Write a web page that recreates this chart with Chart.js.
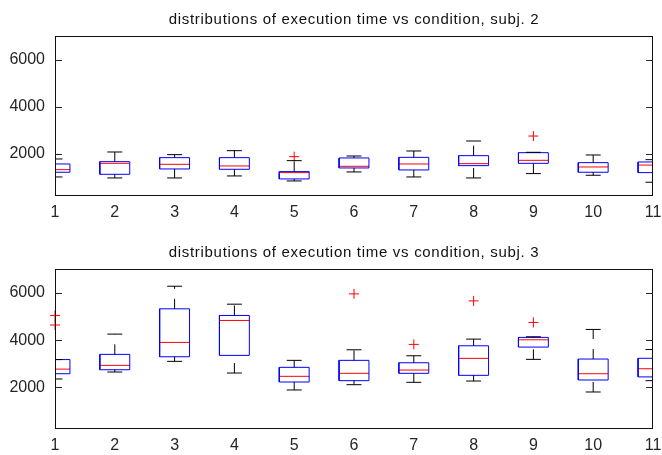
<!DOCTYPE html>
<html>
<head>
<meta charset="utf-8">
<script src="https://cdn.jsdelivr.net/npm/chart.js@4"></script>
<style>
  html, body { margin: 0; padding: 0; background: #fff; }
  #wrap { position: relative; width: 662px; height: 455px; }
  canvas { position: absolute; left: 0; }
</style>
</head>
<body>
<div id="wrap">
  <canvas id="c2" width="662" height="228" style="top:0"></canvas>
  <canvas id="c3" width="662" height="227" style="top:228px"></canvas>
</div>
<script>
// conditions on the x axis
const conditions = [1, 2, 3, 4, 5, 6, 7, 8, 9, 10, 11];
const yTicks = [2000, 4000, 6000];

// subject 2 box statistics (ms)
const s2Lo  = [1027,  985,  985, 1070,  858, 1239, 1027,  985, 1169, 1099,  803];
const s2Q1  = [1226, 1140, 1366, 1352,  943, 1408, 1324, 1507, 1605, 1226, 1211];
const s2Med = [1337, 1605, 1563, 1493, 1211, 1479, 1577, 1591, 1732, 1450, 1530];
const s2Q3  = [1577, 1675, 1845, 1845, 1253, 1831, 1858, 1929, 2056, 1633, 1662];
const s2Hi  = [1789, 2085, 1972, 2141, 1718, 1915, 2127, 2550, 2071, 1958, 1760];
const s2OutX = [5, 9];
const s2OutY = [1887, 2761];

// subject 3 box statistics (ms)
const s3Lo  = [2352, 2647, 3099, 2605, 1886, 2110, 2211, 2266, 3184, 1801, 2281];
const s3Q1  = [2575, 2744, 3294, 3353, 2224, 2281, 2592, 2507, 3704, 2309, 2440];
const s3Med = [2770, 2930, 3902, 4833, 2465, 2592, 2731, 3226, 4013, 2575, 2786];
const s3Q3  = [3175, 3395, 5325, 5044, 2846, 3142, 3040, 3759, 4114, 3197, 3230];
const s3Hi  = [3175, 4254, 6283, 5522, 3142, 3590, 3336, 4042, 4141, 4452, 3600];
const s3OutX = [1, 1, 6, 7, 8, 9];
const s3OutY = [4640, 5044, 5958, 3818, 5661, 4748];

const HALF = 0.25;   // half box width, in x units
const CAP = 0.125;   // half whisker cap width
const FONT = "'Liberation Sans', Arial, Helvetica, sans-serif";
const INK = '#262626';

// MATLAB-ish frame, inward tick marks and a title centred over the axes
const matlabAxes = {
  id: 'matlabAxes',
  afterDraw(chart, args, opts) {
    const { ctx, chartArea: a } = chart;
    const y = chart.scales.y;
    ctx.save();
    ctx.strokeStyle = '#111';
    ctx.lineWidth = 1;
    ctx.strokeRect(Math.round(a.left) + 0.5, Math.round(a.top) + 0.5,
      Math.round(a.right - a.left) - 1, Math.round(a.bottom - a.top) - 1);
    ctx.strokeStyle = INK;
    ctx.beginPath();
    yTicks.forEach((v) => {
      const py = Math.round(y.getPixelForValue(v)) + 0.5;
      ctx.moveTo(a.left, py); ctx.lineTo(a.left + 7, py);
      ctx.moveTo(a.right, py); ctx.lineTo(a.right - 7, py);
    });
    ctx.stroke();
    ctx.fillStyle = '#111';
    ctx.font = '15px ' + FONT;
    ctx.letterSpacing = '0.7px';
    ctx.textAlign = 'center';
    ctx.textBaseline = 'alphabetic';
    ctx.fillText(opts.text, (a.left + a.right) / 2, a.top - 12.5);
    ctx.restore();
  },
};

function boxDatasets(lo, q1, med, q3, hi, outX, outY) {
  const box = [], mid = [], whisk = [], caps = [];
  conditions.forEach((c, i) => {
    box.push({ x: c - HALF, y: q1[i] }, { x: c + HALF, y: q1[i] }, { x: c + HALF, y: q3[i] },
      { x: c - HALF, y: q3[i] }, { x: c - HALF, y: q1[i] }, { x: c, y: null });
    mid.push({ x: c - HALF, y: med[i] }, { x: c + HALF, y: med[i] }, { x: c, y: null });
    // both whiskers drawn bottom-up so the dash pattern lines up like the original
    whisk.push({ x: c, y: lo[i] }, { x: c, y: q1[i] }, { x: c, y: null },
      { x: c, y: q3[i] }, { x: c, y: hi[i] }, { x: c, y: null });
    caps.push({ x: c - CAP, y: lo[i] }, { x: c + CAP, y: lo[i] }, { x: c, y: null },
      { x: c - CAP, y: hi[i] }, { x: c + CAP, y: hi[i] }, { x: c, y: null });
  });
  const outliers = outX.map((x, i) => ({ x, y: outY[i] }));
  const line = { pointRadius: 0, borderWidth: 1, tension: 0, spanGaps: false, fill: false };
  return [
    { ...line, label: 'whiskers', data: whisk, borderColor: '#000', borderDash: [10, 10], clip: 0 },
    { ...line, label: 'caps', data: caps, borderColor: '#000', clip: 0 },
    { ...line, label: 'boxes', data: box, borderColor: '#0000ff', clip: 0 },
    { ...line, label: 'median', data: mid, borderColor: '#ff0000', clip: 0 },
    {
      label: 'outliers', data: outliers, showLine: false, pointStyle: 'cross',
      pointRadius: 5, pointBorderWidth: 1, borderColor: '#ff0000', backgroundColor: '#ff0000', clip: false,
    },
  ];
}

function makeBoxChart(canvas, title, padTop, xAxisHeight, datasets) {
  return new Chart(canvas, {
    type: 'line',
    data: { datasets },
    plugins: [matlabAxes],
    options: {
      responsive: false,
      animation: false,
      events: [],
      layout: { padding: { top: padTop, right: 9, left: 0, bottom: 0 } },
      plugins: {
        legend: { display: false },
        tooltip: { enabled: false },
        matlabAxes: { text: title },
      },
      scales: {
        x: {
          type: 'linear',
          min: 1,
          max: 11,
          grid: { display: false, drawTicks: false },
          border: { display: false },
          afterBuildTicks: (s) => { s.ticks = conditions.map((v) => ({ value: v })); },
          afterFit: (s) => { s.height = xAxisHeight; s.paddingLeft = 0; s.paddingRight = 0; },
          ticks: { color: INK, font: { family: FONT, size: 16 }, padding: 7, maxRotation: 0, autoSkip: false },
        },
        y: {
          min: 220,
          max: 7000,
          grid: { display: false, drawTicks: false },
          border: { display: false },
          afterBuildTicks: (s) => { s.ticks = yTicks.map((v) => ({ value: v })); },
          afterFit: (s) => { s.width = 55; },
          ticks: {
            color: INK, font: { family: FONT, size: 16 }, padding: 10,
            callback: (v) => String(v),
          },
        },
      },
    },
  });
}

makeBoxChart(document.getElementById('c2'),
  'distributions of execution time vs condition, subj. 2', 36, 32,
  boxDatasets(s2Lo, s2Q1, s2Med, s2Q3, s2Hi, s2OutX, s2OutY));

makeBoxChart(document.getElementById('c3'),
  'distributions of execution time vs condition, subj. 3', 41.3, 25.7,
  boxDatasets(s3Lo, s3Q1, s3Med, s3Q3, s3Hi, s3OutX, s3OutY));
</script>
</body>
</html>
